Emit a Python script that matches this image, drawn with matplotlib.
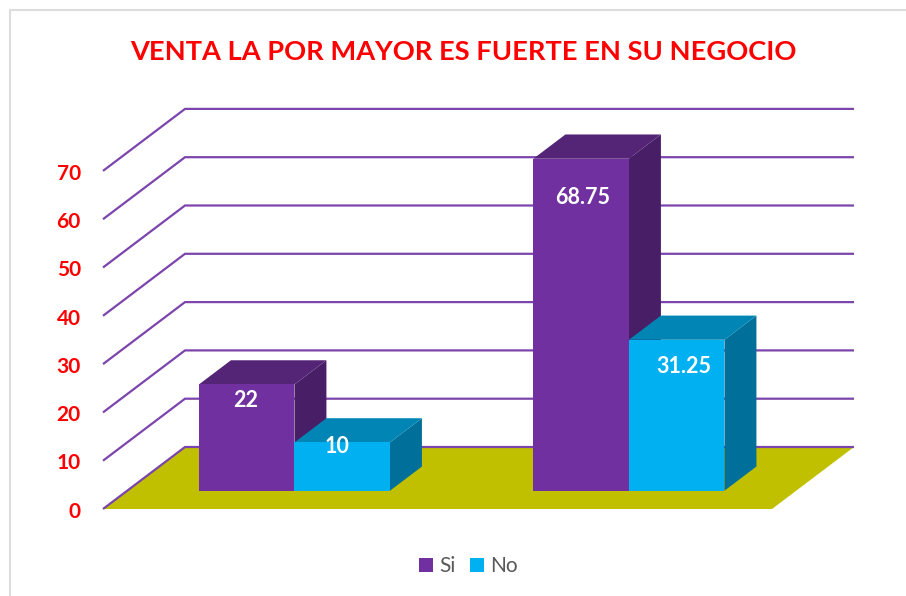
import matplotlib
matplotlib.use("Agg")
import matplotlib.pyplot as plt
from matplotlib.patches import Patch, Polygon, Rectangle

plt.rcParams["font.family"] = ["Lato", "DejaVu Sans"]

title = "VENTA LA POR MAYOR ES FUERTE EN SU NEGOCIO"
series_names = ["Si", "No"]
si_values = [22, 68.75]
no_values = [10, 31.25]
value_labels = [["22", "68.75"], ["10", "31.25"]]
y_ticks = [0, 10, 20, 30, 40, 50, 60, 70]

# scale of the drawing, in pixels
px_per_group = 334.5
px_per_value = 4.83
origin_x = 103
origin_y = 509
depth_x = 82 / px_per_group
depth_y = 62 / px_per_value

bar_width = 95.5 / px_per_group
bar_front = 0.295
bar_depth = 0.39
n_groups = 2

front_colors = ["#7030A0", "#00B0F0"]
top_colors = ["#542476", "#0085B5"]
side_colors = ["#481F66", "#00709A"]
grid_color = "#7C45AC"
floor_color = "#C0C000"


def project(x, value, depth):
    return (x + depth * depth_x, value + depth * depth_y)


fig = plt.figure(figsize=(9.06, 5.96), dpi=100)
ax = fig.add_axes([0, 0, 1, 1])
ax.set_xlim(-origin_x / px_per_group, (906 - origin_x) / px_per_group)
ax.set_ylim(-(596 - origin_y) / px_per_value, origin_y / px_per_value)
ax.axis("off")

fig.add_artist(Rectangle(
    (9.5 / 906, -0.1), 1.0, 1.1 - 10 / 596,
    transform=fig.transFigure,
    facecolor="none",
    edgecolor="#DDDDDD",
    linewidth=1.5
))

fig.text(
    463 / 906, 1 - 52 / 596, title,
    color="#FF0000", fontsize=19.6, fontweight="bold",
    ha="center", va="center"
)

floor = [
    project(0, 0, 0),
    project(n_groups, 0, 0),
    project(n_groups, 0, 1),
    project(0, 0, 1),
]
ax.add_patch(Polygon(floor, facecolor=floor_color, edgecolor="none", zorder=1))

for tick in y_ticks:
    # each wall line starts at the front edge, runs back, then across
    pts = [
        project(0, tick, 0),
        project(0, tick, 1),
        project(n_groups, tick, 1),
    ]
    ax.plot(
        [p[0] for p in pts], [p[1] for p in pts],
        color=grid_color, linewidth=1.6, zorder=2,
        solid_joinstyle="miter", solid_capstyle="butt"
    )
    ax.annotate(
        str(tick), project(0, tick, 0),
        xytext=(-16, -2), textcoords="offset points",
        color="#FF0000", fontsize=15, fontweight="bold",
        ha="right", va="center"
    )

label_shift = [
    [(-1.5, -16), (1.5, -39)],
    [(-5.5, -4), (7, -27)],
]

for g in range(n_groups):
    for s, values in enumerate([si_values, no_values]):
        v = values[g]
        x0 = g + 0.5 - bar_width + s * bar_width
        x1 = x0 + bar_width
        d0 = bar_front
        d1 = bar_front + bar_depth
        side = [
            project(x1, 0, d0), project(x1, 0, d1),
            project(x1, v, d1), project(x1, v, d0),
        ]
        top = [
            project(x0, v, d0), project(x1, v, d0),
            project(x1, v, d1), project(x0, v, d1),
        ]
        front = [
            project(x0, 0, d0), project(x1, 0, d0),
            project(x1, v, d0), project(x0, v, d0),
        ]
        z = 3 + g + s * 0.1
        ax.add_patch(Polygon(side, facecolor=side_colors[s], edgecolor="none", zorder=z))
        ax.add_patch(Polygon(top, facecolor=top_colors[s], edgecolor="none", zorder=z))
        ax.add_patch(Polygon(front, facecolor=front_colors[s], edgecolor="none", zorder=z))
        dx, dy = label_shift[s][g]
        ax.annotate(
            value_labels[s][g], project((x0 + x1) / 2, v, d0),
            xytext=(dx * 0.72, dy * 0.72), textcoords="offset points",
            color="white", fontsize=15.5, fontweight="bold",
            ha="center", va="center", zorder=10
        )

handles = [Patch(facecolor=c, edgecolor="none") for c in front_colors]
ax.legend(
    handles, series_names,
    loc="center", bbox_to_anchor=(468 / 906, 1 - 566 / 596),
    ncol=2, frameon=False, fontsize=15, labelcolor="#595959",
    handlelength=0.67, handleheight=0.67,
    handletextpad=0.3, columnspacing=0.7
)

fig.savefig("out.png", dpi=100)
